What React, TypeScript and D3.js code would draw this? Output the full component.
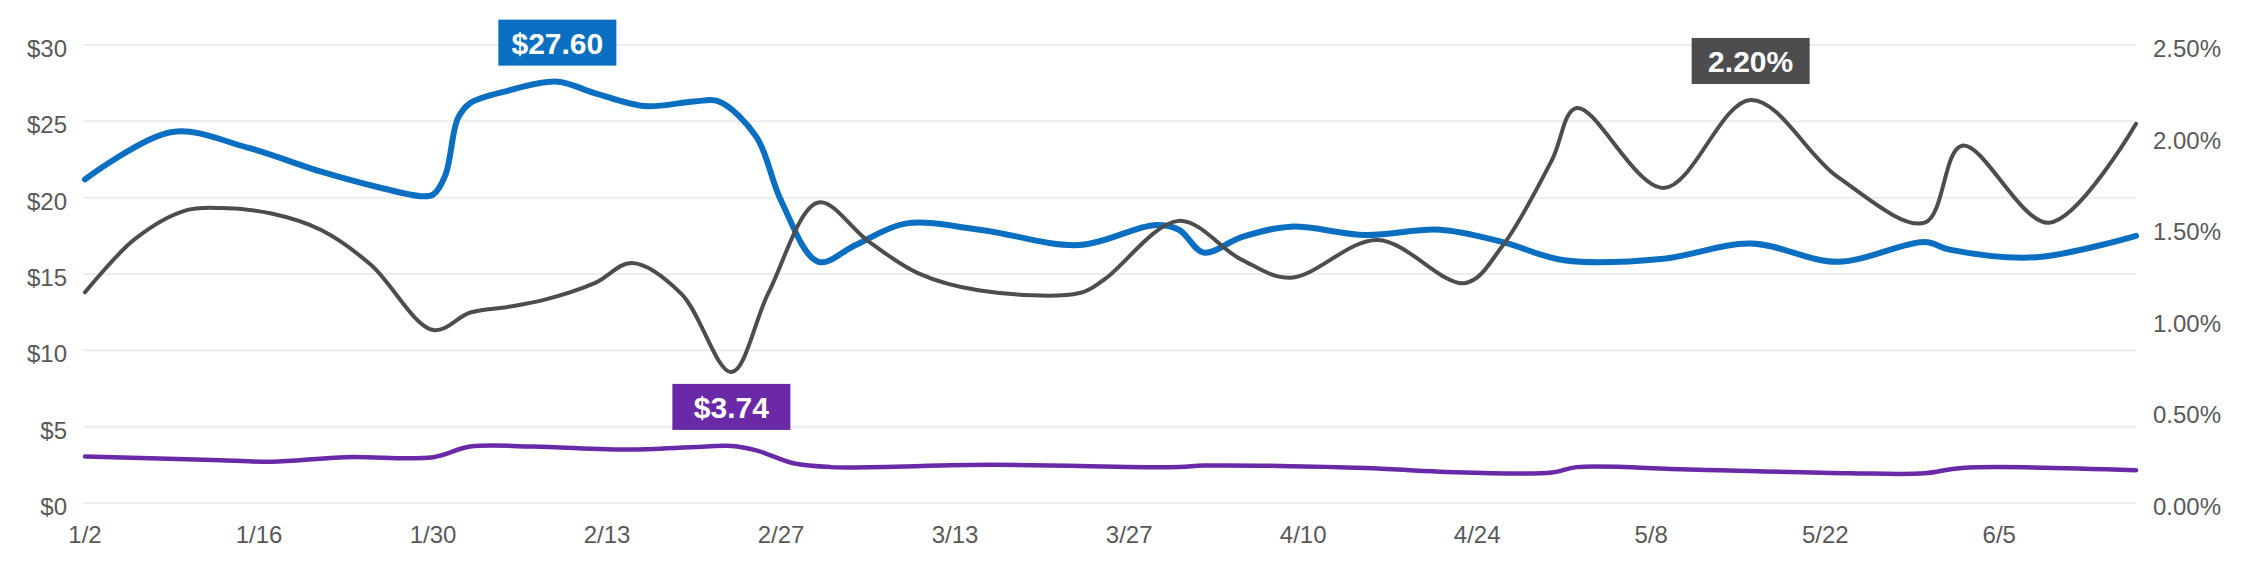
import React from "react";
import * as d3 from "d3";

// --- data (year 2023, samples) ---
const YEAR = 2023;

const cpiDates = ["1/2","1/9","1/15","1/21","1/26","1/29","1/30","1/31","2/1","2/2","2/5","2/9","2/12","2/16","2/20","2/22","2/25","2/27","3/2","3/5","3/9","3/15","3/23","3/29","3/31","4/2","4/5","4/9","4/15","4/21","4/26","5/1","5/9","5/16","5/23","5/30","6/1","6/8","6/16"];
const cpiValues = [21.2,24.3,23.3,21.7,20.6,20.1,20.2,21.5,25.2,26.2,27.0,27.6,26.85,26.0,26.3,26.3,24.0,19.8,15.8,16.9,18.3,17.9,16.9,18.2,17.9,16.4,17.4,18.1,17.55,17.9,17.1,15.9,16.0,17.0,15.8,17.1,16.6,16.1,17.5];

const rateDates = ["1/2","1/6","1/10","1/13","1/17","1/21","1/25","1/30","2/2","2/5","2/8","2/12","2/15","2/19","2/23","2/26","3/2","3/6","3/10","3/15","3/23","3/25","3/31","4/5","4/9","4/16","4/23","4/26","4/30","5/2","5/9","5/16","5/23","5/30","6/2","6/9","6/16"];
const rateValues = [1.15,1.44,1.595,1.61,1.58,1.49,1.3,0.944,1.04,1.07,1.11,1.2,1.31,1.14,0.715,1.15,1.64,1.43,1.255,1.16,1.146,1.22,1.54,1.33,1.23,1.436,1.2,1.4,1.87,2.156,1.72,2.2,1.78,1.53,1.95,1.53,2.07];

const cpcDates = ["1/2","1/13","1/17","1/23","1/30","2/2","2/7","2/15","2/21","2/23","2/25","2/28","3/3","3/16","3/31","4/2","4/15","4/21","4/30","5/2","5/11","5/24","5/30","6/2","6/16"];
const cpcValues = [3.05,2.8,2.7,3.0,3.0,3.7,3.7,3.5,3.7,3.74,3.45,2.6,2.35,2.5,2.35,2.45,2.3,2.05,2.0,2.35,2.2,1.95,1.95,2.3,2.15];

const xTickLabels = ["1/2","1/16","1/30","2/13","2/27","3/13","3/27","4/10","4/24","5/8","5/22","6/5"];
const leftTicks = [0, 5, 10, 15, 20, 25, 30];
const rightTicks = [0, 0.5, 1, 1.5, 2, 2.5];
const peakLabels = ["$27.60", "$3.74", "2.20%"];

const W = 2242, H = 567;
const left = 85, right = 2136, top = 45, bottom = 503;
const FONT = "'Liberation Sans', Arial, sans-serif";

const parse = (s: string) => d3.timeParse("%Y/%m/%d")(`${YEAR}/${s}`) as Date;
const zip = (dates: string[], vals: number[]) => dates.map((d, i) => ({ date: parse(d), v: vals[i] }));

export default function App() {
  const x = d3.scaleTime().domain([parse("1/2"), parse("6/16")]).range([left, right]);
  const yL = d3.scaleLinear().domain([0, 30]).range([bottom, top]);
  const yR = d3.scaleLinear().domain([0, 2.5]).range([bottom, top]);

  const series = [
    { data: zip(cpiDates, cpiValues), y: yL, color: "#0b6fc1", width: 6, label: peakLabels[0] },
    { data: zip(cpcDates, cpcValues), y: yL, color: "#6a2aa8", width: 4.5, label: peakLabels[1] },
    { data: zip(rateDates, rateValues), y: yR, color: "#4d4d4f", width: 4, label: peakLabels[2] },
  ];

  return (
    <div style={{ position: "absolute", left: 0, top: 0 }}>
      <svg width={W} height={H} style={{ display: "block", background: "#fff" }}>
        {leftTicks.map((t) => (
          <g key={"g" + t}>
            <line x1={left - 2} x2={right} y1={yL(t)} y2={yL(t)} stroke="#ececec" strokeWidth={2} />
            <text x={67} y={yL(t) + 12} textAnchor="end" fontFamily={FONT} fontSize={24} fill="#595959">
              ${t}
            </text>
          </g>
        ))}
        {rightTicks.map((t) => (
          <text key={"r" + t} x={2153} y={yR(t) + 12} fontFamily={FONT} fontSize={24} fill="#595959">
            {t.toFixed(2)}%
          </text>
        ))}
        {xTickLabels.map((l) => (
          <text key={l} x={x(parse(l))} y={543} textAnchor="middle" fontFamily={FONT} fontSize={24} fill="#595959">
            {l}
          </text>
        ))}
        {series.map((s, i) => {
          const line = d3
            .line<{ date: Date; v: number }>()
            .x((d) => x(d.date))
            .y((d) => s.y(d.v))
            .curve(d3.curveCatmullRom.alpha(0.5));
          return (
            <path key={"p" + i} d={line(s.data) || ""} fill="none" stroke={s.color} strokeWidth={s.width}
              strokeLinejoin="round" strokeLinecap="round" />
          );
        })}
        {series.map((s, i) => {
          const peak = s.data.reduce((a, b) => (b.v > a.v ? b : a));
          const cx = x(peak.date);
          const by = s.y(peak.v) - 16;
          const bw = 118, bh = 46;
          return (
            <g key={"a" + i}>
              <rect x={cx - bw / 2} y={by - bh} width={bw} height={bh} fill={s.color} />
              <text x={cx} y={by - 12} textAnchor="middle" fontFamily={FONT} fontSize={30} fontWeight="bold" fill="#fff">
                {s.label}
              </text>
            </g>
          );
        })}
      </svg>
    </div>
  );
}
